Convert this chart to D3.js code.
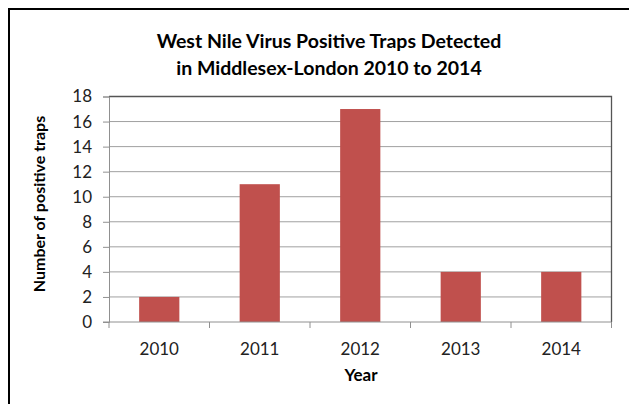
<!DOCTYPE html>
<html>
<head>
<meta charset="utf-8">
<script src="https://cdn.jsdelivr.net/npm/d3@7"></script>
<style>
  html, body { margin: 0; padding: 0; background: #fff; }
  svg { display: block; }
</style>
</head>
<body>
<svg id="chart" width="629" height="404"></svg>
<script>
// Data
const years = ["2010", "2011", "2012", "2013", "2014"];
const positiveTraps = [2, 11, 17, 4, 4];
const yTicks = [0, 2, 4, 6, 8, 10, 12, 14, 16, 18];
const titleLines = ["West Nile Virus Positive Traps Detected", "in Middlesex-London 2010 to 2014"];

const svg = d3.select("#chart");
const font = "Lato, 'Open Sans', 'Liberation Sans', sans-serif";

// Outer frame (left and top edges visible)
svg.append("path")
  .attr("d", "M9,404 V9 H629")
  .attr("fill", "none")
  .attr("stroke", "#000")
  .attr("stroke-width", 2);

const plot = { left: 109, top: 96.5, right: 611.5, bottom: 322 };

const x = d3.scaleBand()
  .domain(years)
  .range([plot.left, plot.right])
  .paddingInner(0.6)
  .paddingOuter(0.3);

const y = d3.scaleLinear()
  .domain([0, 18])
  .range([plot.bottom, plot.top]);

// Gridlines
svg.append("g")
  .selectAll("line")
  .data(yTicks.filter(t => t > 0))
  .join("line")
  .attr("x1", plot.left)
  .attr("x2", plot.right)
  .attr("y1", d => y(d))
  .attr("y2", d => y(d))
  .attr("stroke", "#a0a0a0")
  .attr("stroke-width", 1);

// Plot area border (top and right)
svg.append("path")
  .attr("d", `M${plot.left},${plot.top} H${plot.right} V${plot.bottom}`)
  .attr("fill", "none")
  .attr("stroke", "#555")
  .attr("stroke-width", 1.3);

// Bars
svg.append("g")
  .selectAll("rect")
  .data(years.map((yr, i) => ({ yr, v: positiveTraps[i] })))
  .join("rect")
  .attr("x", d => x(d.yr))
  .attr("width", x.bandwidth())
  .attr("y", d => y(d.v))
  .attr("height", d => y(0) - y(d.v))
  .attr("fill", "#C0504D");

// Y axis
const yAxis = d3.axisLeft(y)
  .tickValues(yTicks)
  .tickSize(6)
  .tickPadding(11)
  .tickFormat(d3.format("d"));
const gy = svg.append("g")
  .attr("transform", `translate(${plot.left},0)`)
  .call(yAxis);
gy.select(".domain").attr("stroke", "#909090");
gy.selectAll(".tick line").attr("stroke", "#909090");
gy.selectAll(".tick text")
  .attr("fill", "#222")
  .style("font-family", font)
  .style("font-size", "17px");

// X axis with tick marks at category boundaries
const gx = svg.append("g")
  .attr("transform", `translate(0,${plot.bottom})`);
const boundaries = d3.range(years.length + 1).map(i => plot.left + i * (plot.right - plot.left) / years.length);
gx.append("line")
  .attr("x1", plot.left - 6)
  .attr("x2", plot.right)
  .attr("stroke", "#909090");
gx.selectAll(".bt")
  .data(boundaries)
  .join("line")
  .attr("class", "bt")
  .attr("x1", d => d)
  .attr("x2", d => d)
  .attr("y1", 0)
  .attr("y2", 6)
  .attr("stroke", "#909090");
gx.selectAll("text")
  .data(years)
  .join("text")
  .attr("x", d => x(d) + x.bandwidth() / 2)
  .attr("y", 33)
  .attr("text-anchor", "middle")
  .attr("fill", "#222")
  .style("font-family", font)
  .style("font-size", "17px")
  .text(d => d);

// Title
svg.append("g")
  .selectAll("text")
  .data(titleLines)
  .join("text")
  .attr("x", 329)
  .attr("y", (d, i) => 48 + i * 26.5)
  .attr("text-anchor", "middle")
  .attr("fill", "#000")
  .style("font-family", font)
  .style("font-size", "19.5px")
  .style("font-weight", "bold")
  .text(d => d);

// Axis titles
svg.append("text")
  .attr("x", 361)
  .attr("y", 381)
  .attr("text-anchor", "middle")
  .style("font-family", font)
  .style("font-size", "17px")
  .style("font-weight", "bold")
  .text("Year");

svg.append("text")
  .attr("transform", "translate(44.5,204) rotate(-90)")
  .attr("text-anchor", "middle")
  .style("font-family", font)
  .style("font-size", "16px")
  .style("font-weight", "bold")
  .text("Number of positive traps");
</script>
</body>
</html>
